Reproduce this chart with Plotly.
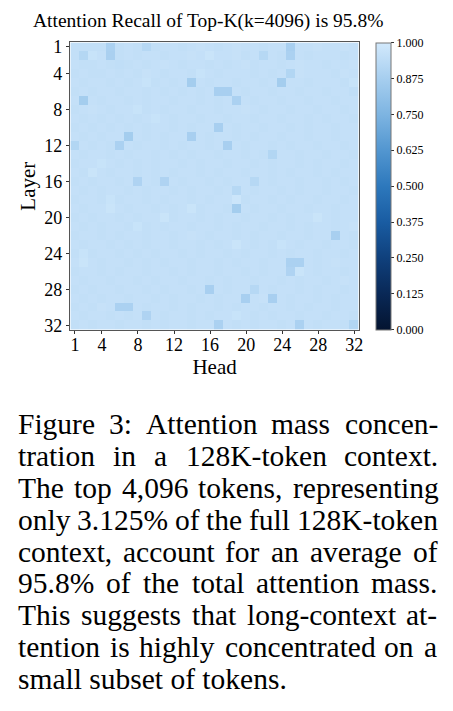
import plotly.graph_objects as go

W, H = 453, 711

heads = list(range(1, 33))
layers = list(range(1, 33))
tick_vals = [1, 4, 8, 12, 16, 20, 24, 28, 32]
cbar_vals = [0.0, 0.125, 0.25, 0.375, 0.5, 0.625, 0.75, 0.875, 1.0]
cbar_text = ["0.000", "0.125", "0.250", "0.375", "0.500", "0.625", "0.750", "0.875", "1.000"]

recall = [
 [0.955,0.955,0.955,0.955,0.89,0.955,0.96,0.955,0.92,0.955,0.96,0.96,0.955,0.96,0.965,0.96,0.955,0.96,0.965,0.96,0.96,0.955,0.96,0.96,0.88,0.96,0.96,0.965,0.96,0.96,0.965,0.96],
 [0.955,0.915,0.97,0.96,0.885,0.955,0.96,0.955,0.96,0.96,0.955,0.96,0.96,0.965,0.96,0.975,0.96,0.96,0.965,0.955,0.96,0.92,0.96,0.955,0.89,0.96,0.955,0.96,0.96,0.96,0.955,0.96],
 [0.96,0.955,0.955,0.96,0.955,0.95,0.955,0.96,0.955,0.96,0.965,0.96,0.955,0.96,0.96,0.955,0.96,0.955,0.96,0.965,0.955,0.96,0.96,0.955,0.96,0.965,0.96,0.96,0.955,0.96,0.96,0.965],
 [0.955,0.96,0.955,0.955,0.96,0.955,0.96,0.955,0.965,0.96,0.955,0.96,0.96,0.955,0.97,0.96,0.955,0.96,0.96,0.96,0.955,0.96,0.955,0.96,0.91,0.965,0.96,0.96,0.96,0.955,0.965,0.96],
 [0.96,0.955,0.96,0.96,0.955,0.96,0.955,0.96,0.97,0.955,0.96,0.955,0.96,0.87,0.96,0.955,0.96,0.96,0.955,0.96,0.96,0.955,0.96,0.87,0.96,0.96,0.955,0.96,0.96,0.96,0.955,0.97],
 [0.955,0.96,0.955,0.96,0.96,0.955,0.96,0.96,0.955,0.96,0.955,0.96,0.955,0.96,0.955,0.96,0.88,0.88,0.96,0.955,0.96,0.96,0.955,0.96,0.96,0.955,0.96,0.96,0.955,0.96,0.96,0.95],
 [0.96,0.87,0.96,0.955,0.96,0.96,0.955,0.96,0.955,0.96,0.96,0.955,0.96,0.96,0.955,0.96,0.955,0.96,0.89,0.96,0.955,0.96,0.96,0.955,0.96,0.96,0.955,0.96,0.96,0.955,0.96,0.96],
 [0.955,0.96,0.965,0.96,0.955,0.96,0.96,0.97,0.955,0.96,0.955,0.96,0.96,0.955,0.96,0.96,0.955,0.96,0.96,0.965,0.96,0.955,0.96,0.96,0.955,0.96,0.96,0.955,0.96,0.96,0.955,0.96],
 [0.96,0.955,0.96,0.955,0.96,0.955,0.96,0.955,0.96,0.97,0.96,0.955,0.96,0.96,0.955,0.96,0.96,0.955,0.96,0.96,0.955,0.96,0.96,0.955,0.96,0.96,0.955,0.96,0.955,0.96,0.96,0.955],
 [0.955,0.96,0.955,0.96,0.955,0.96,0.955,0.96,0.955,0.96,0.96,0.955,0.96,0.955,0.96,0.96,0.88,0.96,0.955,0.96,0.96,0.955,0.96,0.96,0.955,0.96,0.955,0.96,0.96,0.955,0.96,0.96],
 [0.96,0.955,0.96,0.955,0.96,0.96,0.87,0.96,0.955,0.96,0.955,0.96,0.96,0.88,0.96,0.955,0.96,0.96,0.955,0.96,0.955,0.96,0.96,0.955,0.96,0.96,0.955,0.96,0.96,0.955,0.96,0.96],
 [0.91,0.96,0.955,0.96,0.955,0.89,0.96,0.955,0.96,0.96,0.955,0.96,0.955,0.96,0.96,0.955,0.96,0.88,0.96,0.955,0.96,0.96,0.955,0.96,0.955,0.96,0.96,0.955,0.96,0.96,0.955,0.96],
 [0.96,0.955,0.96,0.96,0.955,0.96,0.955,0.96,0.96,0.955,0.96,0.955,0.96,0.955,0.96,0.96,0.955,0.96,0.96,0.955,0.96,0.955,0.91,0.96,0.96,0.955,0.96,0.96,0.955,0.96,0.96,0.955],
 [0.955,0.96,0.96,0.97,0.96,0.955,0.96,0.955,0.96,0.955,0.96,0.96,0.955,0.96,0.955,0.96,0.96,0.955,0.96,0.96,0.955,0.96,0.955,0.96,0.96,0.955,0.96,0.955,0.96,0.96,0.955,0.96],
 [0.96,0.955,0.975,0.96,0.955,0.96,0.96,0.955,0.96,0.955,0.96,0.955,0.96,0.96,0.955,0.96,0.955,0.96,0.96,0.955,0.96,0.96,0.955,0.96,0.955,0.96,0.96,0.955,0.96,0.955,0.96,0.96],
 [0.955,0.96,0.955,0.96,0.96,0.955,0.96,0.90,0.96,0.955,0.90,0.96,0.955,0.96,0.96,0.955,0.96,0.955,0.96,0.96,0.92,0.96,0.955,0.96,0.96,0.955,0.96,0.96,0.955,0.96,0.955,0.96],
 [0.96,0.955,0.96,0.955,0.96,0.96,0.955,0.96,0.955,0.96,0.96,0.955,0.96,0.955,0.96,0.96,0.955,0.96,0.92,0.96,0.955,0.96,0.96,0.955,0.96,0.955,0.96,0.96,0.955,0.96,0.96,0.955],
 [0.955,0.96,0.96,0.955,0.97,0.955,0.96,0.96,0.955,0.96,0.955,0.96,0.96,0.955,0.96,0.955,0.96,0.96,0.98,0.955,0.96,0.96,0.955,0.96,0.955,0.96,0.96,0.955,0.96,0.96,0.955,0.96],
 [0.96,0.955,0.96,0.96,0.975,0.96,0.955,0.96,0.96,0.955,0.96,0.955,0.96,0.975,0.955,0.96,0.96,0.955,0.87,0.96,0.955,0.96,0.96,0.955,0.96,0.96,0.955,0.96,0.96,0.955,0.96,0.96],
 [0.955,0.96,0.955,0.96,0.96,0.955,0.96,0.955,0.96,0.96,0.975,0.955,0.96,0.96,0.955,0.96,0.955,0.96,0.96,0.955,0.96,0.96,0.955,0.96,0.955,0.96,0.96,0.975,0.96,0.955,0.96,0.96],
 [0.96,0.955,0.96,0.955,0.96,0.96,0.955,0.97,0.955,0.96,0.955,0.96,0.96,0.955,0.96,0.96,0.955,0.96,0.955,0.96,0.96,0.955,0.96,0.96,0.955,0.96,0.955,0.96,0.96,0.955,0.96,0.965],
 [0.955,0.96,0.96,0.955,0.96,0.955,0.96,0.96,0.955,0.96,0.96,0.955,0.96,0.965,0.96,0.955,0.96,0.96,0.955,0.96,0.955,0.96,0.96,0.955,0.96,0.96,0.955,0.96,0.96,0.88,0.96,0.955],
 [0.96,0.955,0.96,0.96,0.955,0.96,0.955,0.96,0.955,0.96,0.96,0.955,0.96,0.96,0.955,0.96,0.955,0.96,0.975,0.96,0.955,0.96,0.955,0.97,0.96,0.955,0.96,0.96,0.955,0.96,0.96,0.955],
 [0.955,0.97,0.955,0.96,0.96,0.955,0.96,0.955,0.96,0.955,0.96,0.96,0.955,0.96,0.955,0.96,0.96,0.955,0.96,0.955,0.96,0.96,0.955,0.96,0.955,0.96,0.96,0.955,0.96,0.96,0.955,0.96],
 [0.96,0.975,0.96,0.955,0.96,0.96,0.955,0.96,0.955,0.96,0.955,0.96,0.96,0.955,0.96,0.96,0.955,0.96,0.955,0.96,0.96,0.955,0.96,0.96,0.89,0.89,0.96,0.955,0.96,0.965,0.96,0.96],
 [0.955,0.96,0.96,0.955,0.96,0.955,0.96,0.96,0.955,0.96,0.96,0.955,0.96,0.955,0.96,0.96,0.955,0.96,0.96,0.955,0.96,0.955,0.96,0.96,0.90,0.975,0.96,0.955,0.96,0.96,0.955,0.96],
 [0.96,0.955,0.96,0.96,0.955,0.96,0.96,0.955,0.96,0.955,0.96,0.96,0.955,0.96,0.96,0.955,0.96,0.955,0.96,0.96,0.955,0.96,0.96,0.955,0.96,0.955,0.96,0.96,0.955,0.96,0.965,0.96],
 [0.955,0.96,0.955,0.96,0.96,0.955,0.96,0.96,0.955,0.96,0.955,0.96,0.96,0.955,0.96,0.88,0.96,0.955,0.96,0.96,0.92,0.96,0.955,0.96,0.96,0.955,0.96,0.955,0.96,0.96,0.955,0.96],
 [0.96,0.955,0.96,0.955,0.96,0.96,0.955,0.96,0.96,0.955,0.96,0.955,0.96,0.96,0.955,0.96,0.955,0.96,0.96,0.88,0.96,0.965,0.88,0.96,0.955,0.96,0.96,0.955,0.96,0.955,0.96,0.96],
 [0.955,0.96,0.955,0.965,0.96,0.89,0.89,0.96,0.955,0.96,0.96,0.955,0.96,0.955,0.96,0.96,0.955,0.96,0.955,0.96,0.96,0.955,0.96,0.96,0.955,0.96,0.955,0.96,0.96,0.955,0.96,0.96],
 [0.96,0.955,0.96,0.96,0.955,0.96,0.955,0.96,0.90,0.96,0.955,0.96,0.96,0.955,0.96,0.955,0.96,0.96,0.97,0.96,0.955,0.96,0.955,0.96,0.96,0.955,0.96,0.96,0.955,0.96,0.96,0.955],
 [0.955,0.96,0.955,0.96,0.96,0.955,0.96,0.96,0.955,0.96,0.955,0.96,0.96,0.955,0.96,0.96,0.89,0.96,0.955,0.96,0.955,0.96,0.96,0.955,0.96,0.89,0.96,0.955,0.96,0.96,0.955,0.91],
]

title_text = "Attention Recall of Top-K(k=4096) is 95.8%"
caption_lines = [
    "Figure 3: Attention mass concen-",
    "tration in a 128K-token context.",
    "The top 4,096 tokens, representing",
    "only 3.125% of the full 128K-token",
    "context, account for an average of",
    "95.8% of the total attention mass.",
    "This suggests that long-context at-",
    "tention is highly concentrated on a",
    "small subset of tokens.",
]

colorscale = [
    [0.0, "rgb(4,20,48)"],
    [0.125, "rgb(9,40,86)"],
    [0.25, "rgb(15,64,124)"],
    [0.375, "rgb(25,92,162)"],
    [0.5, "rgb(45,120,188)"],
    [0.625, "rgb(82,150,208)"],
    [0.75, "rgb(125,180,225)"],
    [0.875, "rgb(166,206,239)"],
    [1.0, "rgb(210,233,252)"],
]

FONT = "Liberation Serif, Times New Roman, serif"

# plot area in pixels
px0, px1 = 71, 362
py0, py1 = 38, 330

fig = go.Figure(go.Heatmap(
    z=recall, x=heads, y=layers, zmin=0, zmax=1,
    colorscale=colorscale, xgap=0, ygap=0,
    colorbar=dict(
        x=379 / W, xanchor="left", xpad=0, ypad=0,
        y=1 - (py0 + py1) / 2 / H, yanchor="middle",
        len=(py1 - py0) / H, lenmode="fraction",
        thickness=15, thicknessmode="pixels",
        outlinecolor="#777777", outlinewidth=1,
        tickvals=cbar_vals, ticktext=cbar_text,
        ticks="outside", ticklen=3, tickcolor="#333333",
        tickfont=dict(family=FONT, size=12, color="black"),
    ),
))

fig.update_layout(
    width=W, height=H,
    margin=dict(l=0, r=0, t=0, b=0),
    paper_bgcolor="white", plot_bgcolor="white",
    xaxis=dict(
        domain=[px0 / W, px1 / W], range=[0.5, 32.5],
        tickvals=tick_vals, ticks="outside", ticklen=3.5, tickcolor="#333333",
        ticklabelstandoff=-5,
        showline=True, mirror=True, linecolor="#555555", linewidth=1,
        showgrid=False, zeroline=False,
        tickfont=dict(family=FONT, size=18, color="black"),
        title=dict(text="Head", font=dict(family=FONT, size=21, color="black"), standoff=0),
    ),
    yaxis=dict(
        domain=[1 - py1 / H, 1 - py0 / H], range=[32.5, 0.5],
        tickvals=tick_vals, ticks="outside", ticklen=3.5, tickcolor="#333333",
        showline=True, mirror=True, linecolor="#555555", linewidth=1,
        showgrid=False, zeroline=False,
        tickfont=dict(family=FONT, size=18, color="black"),
        title=dict(text="Layer", font=dict(family=FONT, size=21, color="black"), standoff=2),
    ),
    showlegend=False,
)

annotations = [dict(
    text=title_text, x=210 / W, y=1 - 16 / H, xref="paper", yref="paper",
    xanchor="center", yanchor="middle", showarrow=False,
    font=dict(family=FONT, size=19.5, color="black"),
)]

# Times metrics (1/1000 em) for justified caption layout
tw = {' ': 250, '%': 833, ',': 250, '-': 333, '.': 250, ':': 278,
      'A': 722, 'F': 556, 'K': 722, 'T': 611,
      'a': 444, 'b': 500, 'c': 444, 'd': 500, 'e': 444, 'f': 333, 'g': 500,
      'h': 500, 'i': 278, 'k': 500, 'l': 278, 'm': 778, 'n': 500, 'o': 500,
      'p': 500, 'r': 333, 's': 389, 't': 278, 'u': 500, 'v': 500, 'w': 722,
      'x': 500, 'y': 500}
for d in "0123456789":
    tw[d] = 500

cap_fs = 29.5
cap_left, cap_right = 17, 440
cap_y0, cap_dy = 426, 32.3
for i, line in enumerate(caption_lines):
    yc = 1 - (cap_y0 + i * cap_dy) / H
    words = line.split(" ")
    if i == len(caption_lines) - 1:
        annotations.append(dict(
            text=line, x=cap_left / W, y=yc, xref="paper", yref="paper",
            xanchor="left", yanchor="middle", showarrow=False,
            font=dict(family=FONT, size=cap_fs, color="black"), borderpad=0))
        continue
    widths = [sum(tw.get(c, 500) for c in w) * cap_fs / 1000 for w in words]
    gap = (cap_right - cap_left - sum(widths)) / (len(words) - 1)
    x = cap_left
    for w, wd in zip(words, widths):
        annotations.append(dict(
            text=w, x=x / W, y=yc, xref="paper", yref="paper",
            xanchor="left", yanchor="middle", showarrow=False,
            font=dict(family=FONT, size=cap_fs, color="black"), borderpad=0))
        x += wd + gap

fig.update_layout(annotations=annotations)
fig.write_html("out.html")
